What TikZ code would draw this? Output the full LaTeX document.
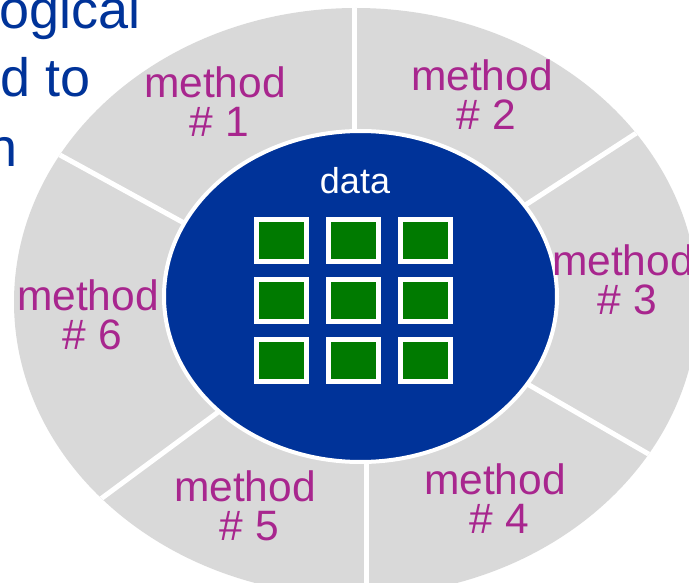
\documentclass[tikz,border=0pt]{standalone}
\usepackage{fontspec}
\setmainfont{Liberation Sans}
\definecolor{ringgray}{RGB}{217,217,217}
\definecolor{coreblue}{RGB}{0,51,153}
\definecolor{cellgreen}{RGB}{0,122,0}
\definecolor{labelmagenta}{RGB}{168,38,142}
\begin{document}
\begin{tikzpicture}[x=1pt,y=-1pt,
  headtext/.style={font=\fontsize{54}{64}\selectfont, text=coreblue, inner sep=0pt, anchor=base west},
  methodlabel/.style={font=\fontsize{42.5}{39}\selectfont, text=labelmagenta, inner sep=0pt, align=center, anchor=base},
  divider/.style={draw=white, line width=5pt},
  cell/.style={rectangle, fill=cellgreen, draw=white, line width=5pt, minimum width=50pt, minimum height=42pt, inner sep=0pt}]
\useasboundingbox (0,0) rectangle (689,583);
\clip (0,0) rectangle (689,583);

% heading text running off the left edge
\node[headtext] (head1) at (-1,29) {ogical};
\node[headtext] (head2) at (0,97) {d to};
\node[headtext] (head3) at (-13,167) {n};

% outer ring of methods
\fill[ringgray] (356,302) ellipse [x radius=342pt, y radius=294pt];
\begin{scope}
  \clip (356,302) ellipse [x radius=342pt, y radius=294pt];
  \draw[divider] (354,140) -- (354,-10);
  \draw[divider] (517.4,210.2) -- (697.8,93.2);
  \draw[divider] (523,381.5) -- (709,489);
  \draw[divider] (366,450) -- (366,600);
  \draw[divider] (225,407) -- (52,535);
  \draw[divider] (195,229) -- (7,126);
\end{scope}

% data core
\filldraw[fill=coreblue, draw=white, line width=4pt] (360.5,296.5) ellipse [x radius=196.5pt, y radius=165.5pt];
\node[font=\fontsize{36}{42}\selectfont, text=white, inner sep=0pt, anchor=base] (datalabel) at (355,194) {data};
\foreach \c/\x in {1/281.5,2/353,3/425}
  \foreach \r/\y in {1/240.5,2/300.5,3/360}
    \node[cell] (cell-\r-\c) at (\x,\y) {};

% method labels (anchored at the baseline of the second line)
\node[methodlabel] (m1) at (215,137) {method\\\hspace*{9pt}\# 1};
\node[methodlabel] (m2) at (482,130) {method\\\hspace*{9pt}\# 2};
\node[methodlabel] (m3) at (623,314) {method\\\hspace*{9pt}\# 3};
\node[methodlabel] (m4) at (495,533) {method\\\hspace*{9pt}\# 4};
\node[methodlabel] (m5) at (245,540) {method\\\hspace*{9pt}\# 5};
\node[methodlabel] (m6) at (88,349)  {method\\\hspace*{9pt}\# 6};
\end{tikzpicture}
\end{document}
